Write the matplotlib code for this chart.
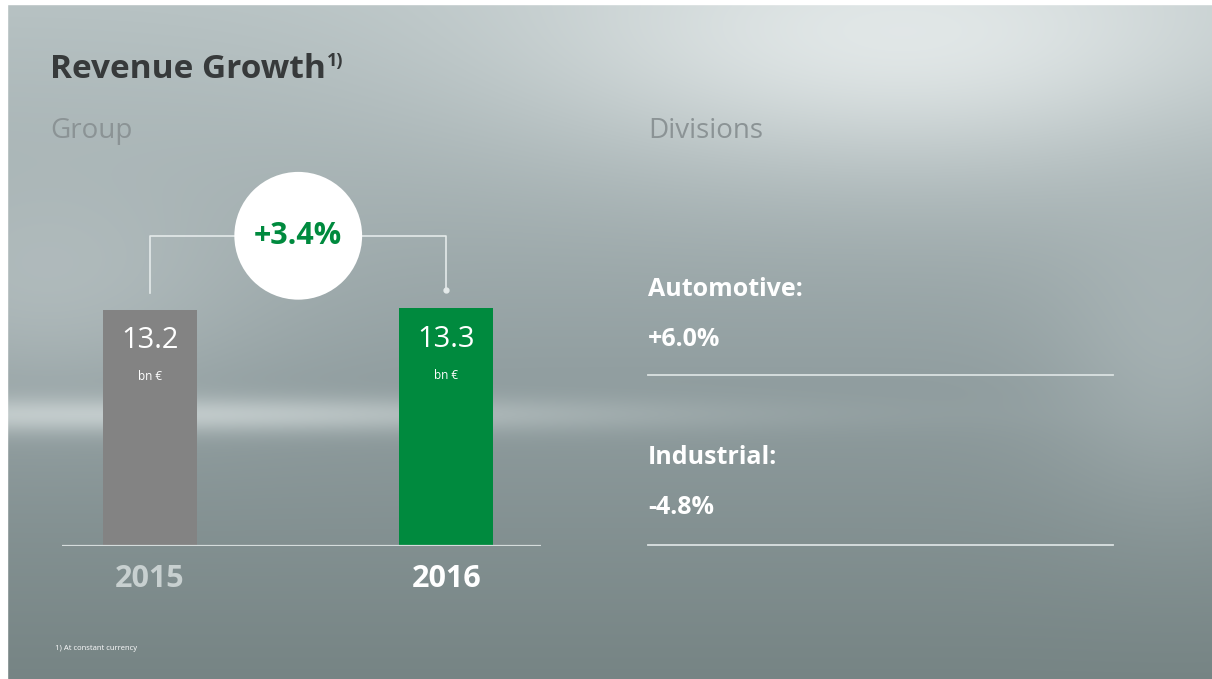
import numpy as np
import matplotlib
matplotlib.use("Agg")
import matplotlib.pyplot as plt
from matplotlib.colors import to_rgb

plt.rcParams['font.family'] = ['Open Sans', 'DejaVu Sans']

# ---------------- data ----------------
years = ["2015", "2016"]
revenue = [13.2, 13.3]
revenue_labels = ["13.2", "13.3"]
unit_label = "bn €"
group_growth = "+3.4%"
divisions = ["Automotive:", "Industrial:"]
division_growth = ["+6.0%", "-4.8%"]
title = "Revenue Growth"
title_sup = "1)"
footnote = "1) At constant currency"

bar_colors = ["#838383", "#008a3e"]
year_colors = ["#c8d0d0", "#ffffff"]
GREEN = "#008a3e"

W, H = 1212, 679
fig = plt.figure(figsize=(W / 100, H / 100), dpi=100)

# ---------------- background ----------------
bg = fig.add_axes([0, 0, 1, 1])
bg.set_xlim(0, W)
bg.set_ylim(H, 0)
bg.axis("off")

yy, xx = np.mgrid[0:H, 0:W].astype(float)
top = np.array(to_rgb("#b7c2c3"))
mid = np.array(to_rgb("#919ea0"))
bot = np.array(to_rgb("#768484"))
t = yy / H
img = np.where((t < 0.55)[..., None],
               top + (mid - top) * (t / 0.55)[..., None],
               mid + (bot - mid) * ((t - 0.55) / 0.45)[..., None])
light = np.array(to_rgb("#e9eeee"))
# bright top-right glow
g1 = np.exp(-(((xx - 900) / 380) ** 2 + ((yy - 30) / 130) ** 2))
img = img + (light - img) * (0.85 * g1)[..., None]
# horizontal light streak on the left
g2 = np.exp(-((yy - 412) / 18) ** 2) * np.exp(-((xx - 80) / 520) ** 2)
img = img + (np.array(to_rgb("#cfd7d7")) - img) * (0.8 * g2)[..., None]
# soft glow on upper left
g3 = np.exp(-(((xx - 40) / 220) ** 2 + ((yy - 280) / 120) ** 2))
img = img + (np.array(to_rgb("#c3cccd")) - img) * (0.5 * g3)[..., None]
# light area right middle
g4 = np.exp(-(((xx - 1170) / 120) ** 2 + ((yy - 330) / 160) ** 2))
img = img + (np.array(to_rgb("#b4bfc0")) - img) * (0.5 * g4)[..., None]
img = np.clip(img, 0, 1)
bg.imshow(img, extent=(7, W + 1, H + 1, 4), aspect="auto", zorder=0, interpolation="bilinear")
bg.add_patch(plt.Rectangle((0, 0), 7, H, color="white", zorder=1))
bg.add_patch(plt.Rectangle((0, 0), W, 4, color="white", zorder=1))

# ---------------- texts (slide) ----------------
t_title = bg.text(50, 70, title, fontsize=24, fontweight="bold", color="#373a3b",
                  ha="left", va="center", zorder=3)
fig.canvas.draw()
r = fig.canvas.get_renderer()
bb = t_title.get_window_extent(renderer=r)
x_end = bb.x1
bg.text(x_end + 1, 61, title_sup, fontsize=13, fontweight="bold", color="#373a3b",
        ha="left", va="center", zorder=3)

bg.text(50, 131, "Group", fontsize=20, color="#8b9395", ha="left", va="center", zorder=3)
bg.text(648, 131, "Divisions", fontsize=20, color="#8b9395", ha="left", va="center", zorder=3)

div_y = [(289, 340, 375), (458, 507, 545)]
for name, val, (y1, y2, yl) in zip(divisions, division_growth, div_y):
    bg.text(648, y1, name, fontsize=18, fontweight="bold", color="white",
            ha="left", va="center", zorder=3)
    bg.text(648, y2, val, fontsize=18, fontweight="bold", color="white",
            ha="left", va="center", zorder=3)
    bg.plot([648, 1113], [yl, yl], color="#dbe2e2", lw=1.3, zorder=3)

bg.text(55, 648, footnote, fontsize=5.5, color="white", ha="left", va="center", zorder=3)

# ---------------- bar chart ----------------
ax = fig.add_axes([62 / W, (H - 546) / H, 479 / W, 18 * 17.88 / H])
ax.patch.set_alpha(0)
ax.set_xlim(-0.297, 1.319)
ax.set_ylim(0, 18)
ax.axis("off")

x = np.arange(len(years))
ax.bar(x, revenue, width=0.317, color=bar_colors, zorder=2)
ax.axhline(0, color="#d5dcdc", lw=1.6, zorder=3)

for i in range(len(years)):
    ax.annotate(revenue_labels[i], xy=(x[i], revenue[i]), xytext=(0, -31),
                textcoords="offset pixels", ha="center", va="center",
                fontsize=21, color="white", zorder=4)
    ax.annotate(unit_label, xy=(x[i], revenue[i]), xytext=(0, -67),
                textcoords="offset pixels", ha="center", va="center",
                fontsize=8.5, color="white", zorder=4)
    ax.annotate(years[i], xy=(x[i], 0), xytext=(0, -33),
                textcoords="offset pixels", ha="center", va="center",
                fontsize=22, fontweight="bold", color=year_colors[i],
                annotation_clip=False, zorder=4)

# connector
y_low_l, y_low_r, y_high = 14.15, 14.3, 17.35
ax.plot([x[0], x[0], x[1], x[1]], [y_low_l, y_high, y_high, y_low_r],
        color="#e4eaea", lw=1.2, clip_on=False, zorder=3)
ax.plot([x[1]], [y_low_r], marker="o", ms=3.5, color="#e4eaea", clip_on=False, zorder=3)
xc = (x[0] + x[1]) / 2
ax.scatter([xc], [y_high], s=92 ** 2, color="white", edgecolors="none",
           clip_on=False, zorder=5)
ax.text(xc, y_high, group_growth, fontsize=22, fontweight="bold", color=GREEN,
        ha="center", va="center", zorder=6, clip_on=False)

fig.savefig("out.png", dpi=100)
